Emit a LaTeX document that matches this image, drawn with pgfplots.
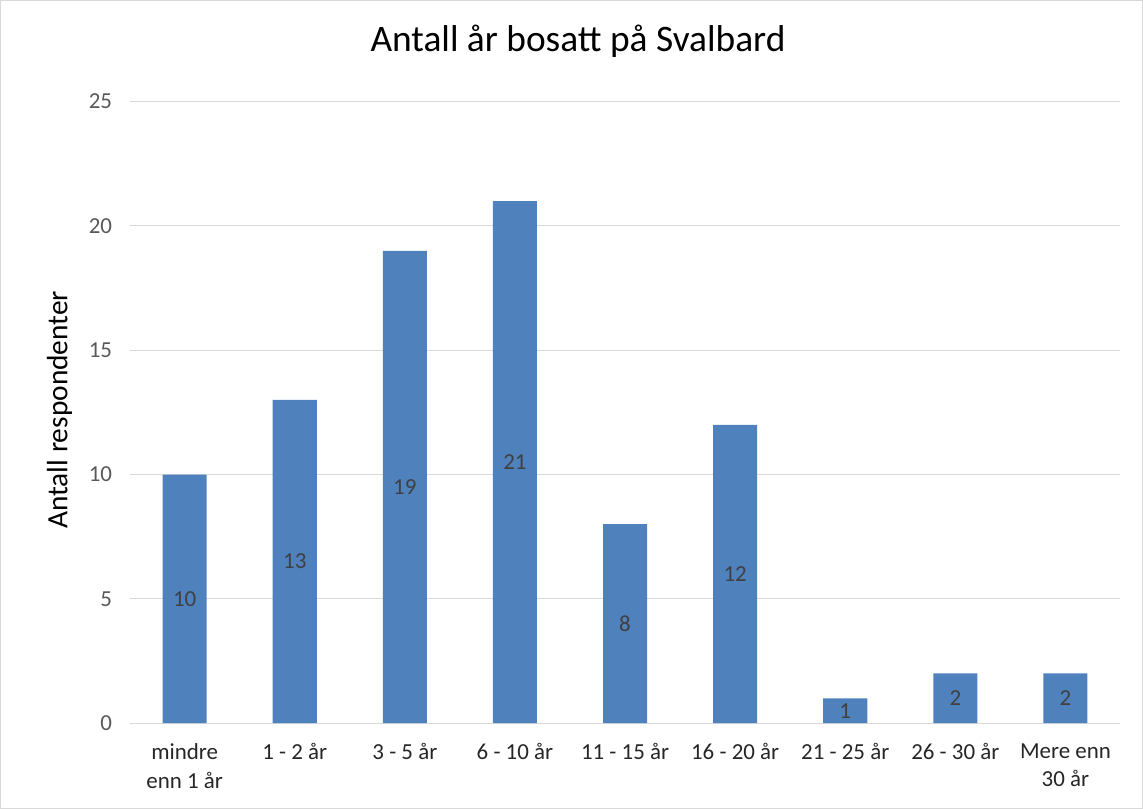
\documentclass[border=0pt]{standalone}
\usepackage{pgfplots}
\pgfplotsset{compat=1.18}
\usepackage{fontspec}
\setmainfont{Carlito}
\definecolor{barblue}{HTML}{4F81BD}
\definecolor{gridgray}{HTML}{D9D9D9}
\definecolor{ticktext}{HTML}{595959}
\definecolor{labeltext}{HTML}{404040}
\definecolor{xtext}{HTML}{262626}
\begin{document}
\begin{tikzpicture}
\draw[draw=gridgray, line width=1bp] (-129bp,-85bp) rectangle (1012bp,722bp);
\begin{axis}[
  at={(0,0)}, anchor=south west,
  scale only axis,
  width=990bp, height=621bp,
  xmin=-0.5, xmax=8.5,
  ymin=0, ymax=25,
  ytick={0,5,10,15,20,25},
  xtick={0,1,2,3,4,5,6,7,8},
  xticklabels={{mindre\\enn 1 år},{1 - 2 år},{3 - 5 år},{6 - 10 år},{11 - 15 år},{16 - 20 år},{21 - 25 år},{26 - 30 år},{Mere enn\\30 år}},
  xticklabel style={align=center, font=\fontsize{23}{28.5}\selectfont, text=xtext, anchor=north, yshift=-17bp},
  yticklabel style={font=\fontsize{23}{27}\selectfont, text=ticktext, anchor=east, xshift=-14bp},
  /pgf/number format/assume math mode=true,
  major tick length=0pt,
  axis line style={draw=none},
  ymajorgrids,
  grid style={draw=gridgray, line width=1.2bp},
  ylabel={Antall respondenter},
  ylabel style={font=\fontsize{29.5}{34}\selectfont, at={(-70bp,313bp)}, anchor=center, rotate=0},
  title={Antall år bosatt på Svalbard},
  title style={font=\fontsize{37.5}{42}\selectfont, at={(448bp,675bp)}, anchor=center},
  ybar, bar width=44bp,
  visualization depends on={rawy \as \rawy},
  nodes near coords,
  every node near coord/.append style={font=\fontsize{23}{27}\selectfont, text=labeltext, anchor=center, yshift=-\rawy*12.42bp},
]
\addplot[fill=barblue, draw=none, bar shift=0pt] coordinates {
(0,10) (1,13) (2,19) (3,21) (4,8) (5,12) (6,1) (7,2) (8,2)
};
\end{axis}
\end{tikzpicture}
\end{document}
